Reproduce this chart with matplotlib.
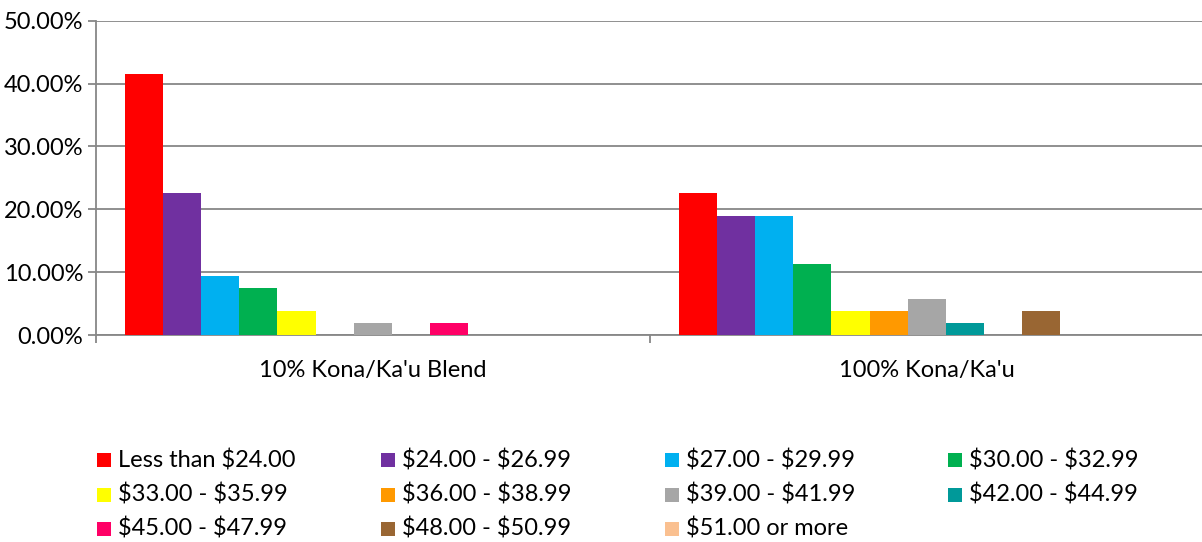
import matplotlib
matplotlib.use("Agg")
import matplotlib.pyplot as plt
from matplotlib.patches import Rectangle
from matplotlib.ticker import FuncFormatter, FixedLocator
import numpy as np

plt.rcParams['font.family'] = ['Lato', 'DejaVu Sans']
plt.rcParams['text.parse_math'] = False

categories = ["10% Kona/Ka'u Blend", "100% Kona/Ka'u"]
series_labels = ["Less than $24.00", "$24.00 - $26.99", "$27.00 - $29.99", "$30.00 - $32.99",
                 "$33.00 - $35.99", "$36.00 - $38.99", "$39.00 - $41.99", "$42.00 - $44.99",
                 "$45.00 - $47.99", "$48.00 - $50.99", "$51.00 or more"]
colors = ["#FF0000", "#7030A0", "#00B0F0", "#00B050", "#FFFF00", "#FF9900",
          "#A6A6A6", "#009999", "#FF0066", "#996633", "#FAC090"]
blend_values = [41.51, 22.64, 9.43, 7.55, 3.77, 0.0, 1.89, 0.0, 1.89, 0.0, 0.0]
pure_values = [22.64, 18.87, 18.87, 11.32, 3.77, 3.77, 5.66, 1.89, 0.0, 3.77, 0.0]
values = np.array([blend_values, pure_values])  # shape (categories, series)
y_ticks = [0, 10, 20, 30, 40, 50]

W, H = 1202, 542
FS = 17
fig = plt.figure(figsize=(W / 100, H / 100), dpi=100)
ax_left, ax_right, ax_top, ax_bottom = 96, 1204, 20.7, 335
ax = fig.add_axes([ax_left / W, 1 - ax_bottom / H, (ax_right - ax_left) / W, (ax_bottom - ax_top) / H])

bar_w = 38.1 / 554
offset0 = 29 / 554
for j, (lab, col) in enumerate(zip(series_labels, colors)):
    xs = np.arange(len(categories)) + offset0 + j * bar_w
    ax.bar(xs, values[:, j], width=bar_w, align='edge', color=col, linewidth=0, zorder=3, label=lab)

ax.set_xlim(0, len(categories))
ax.set_ylim(0, 50)
ax.yaxis.set_major_locator(FixedLocator(y_ticks))
ax.yaxis.set_major_formatter(FuncFormatter(lambda v, p: f"{v:.2f}%"))
gridc = "#878787"
ax.grid(axis='y', color=gridc, linewidth=1.3, zorder=0)
ax.grid(axis='x', visible=False)
for s in ['top', 'right']:
    ax.spines[s].set_visible(False)
ax.spines['left'].set_color(gridc)
ax.spines['left'].set_linewidth(1.3)
ax.spines['bottom'].set_color(gridc)
ax.spines['bottom'].set_linewidth(1.3)
ax.tick_params(axis='y', length=5.8, width=1.3, color=gridc, pad=3.5, labelsize=FS, labelcolor='black')

# category ticks
ax.xaxis.set_major_locator(FixedLocator(np.arange(len(categories)) + 0.5))
ax.set_xticklabels(categories)
ax.xaxis.set_minor_locator(FixedLocator(np.arange(len(categories) + 1)))
ax.tick_params(axis='x', which='major', length=0, pad=18, labelsize=FS, labelcolor='black')
ax.tick_params(axis='x', which='minor', length=5.8, width=1.3, color=gridc)

# legend (row-major, 4 columns)
col_x = [97, 381, 665, 948]
row_y = [460, 495, 529]
sq = 14
for i, (lab, col) in enumerate(zip(series_labels, colors)):
    r, c = divmod(i, 4)
    x0, yc = col_x[c], row_y[r]
    fig.add_artist(Rectangle((x0 / W, 1 - (yc + sq / 2) / H), sq / W, sq / H,
                             transform=fig.transFigure, color=col, linewidth=0))
    fig.text((x0 + 21) / W, 1 - yc / H, lab, fontsize=FS, va='center', ha='left')

fig.savefig("out.png", dpi=100)
